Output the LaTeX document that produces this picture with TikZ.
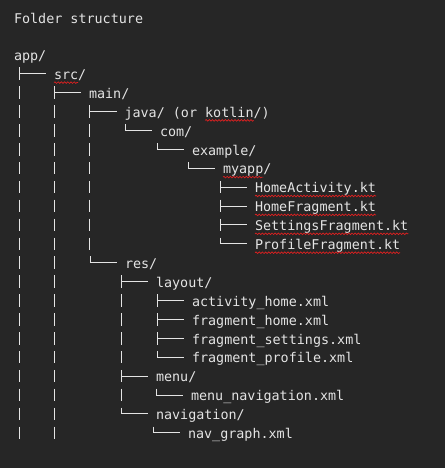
\documentclass[tikz,border=0pt]{standalone}
\usepackage{fontspec}
\setmonofont{DejaVu Sans Mono}
\usetikzlibrary{decorations.pathmorphing}
\definecolor{bgc}{HTML}{262626}
\definecolor{fgc}{HTML}{E4E4E4}
\definecolor{sqc}{HTML}{E02020}
\tikzset{
  nametext/.style={anchor=base west, inner sep=0pt, outer sep=0pt, text=fgc,
    font=\ttfamily\fontsize{13.4}{16}\selectfont},
  treeline/.style={draw=fgc, line width=0.9pt},
  squigline/.style={draw=sqc, line width=0.7pt, decorate,
    decoration={snake, amplitude=0.8pt, segment length=3.2pt}}
}
\newcommand\teeto[1]{\draw[treeline] ([shift={(-35,-12)}]#1.base west) -- ([shift={(-35,0.5)}]#1.base west)
  ([shift={(-35,-5.7)}]#1.base west) -- ([shift={(-8,-5.7)}]#1.base west);}
\newcommand\cornerto[1]{\draw[treeline] ([shift={(-35,-12)}]#1.base west) -- ([shift={(-35,-5.7)}]#1.base west)
  -- ([shift={(-8,-5.7)}]#1.base west);}
\newcommand\vbars[2]{\foreach \xx in {#2}{\draw[treeline] (\xx,{by(#1)-12}) -- (\xx,{by(#1)+0.5});}}
\newcommand\squig[3]{\draw[squigline] ([shift={(#2*8.067,3.2)}]#1.base west) -- ([shift={(#3*8.067,3.2)}]#1.base west);}
\begin{document}
\begin{tikzpicture}[x=1pt,y=-1pt, declare function={by(\i)=60.5+18.9*\i;}]
\fill[bgc] (0,0) rectangle (445,468);
\useasboundingbox (0,0) rectangle (445,468);

\node[nametext] (title) at (14,24) {Folder structure};
\node[nametext] (n0) at (14,{by(0)}) {app/};
\node[nametext] (n1) at (54,{by(1)}) {src/};
\node[nametext] (n2) at (89,{by(2)}) {main/};
\node[nametext] (n3) at (124.5,{by(3)}) {java/ (or kotlin/)};
\node[nametext] (n4) at (160,{by(4)}) {com/};
\node[nametext] (n5) at (192,{by(5)}) {example/};
\node[nametext] (n6) at (223,{by(6)}) {myapp/};
\node[nametext] (n7) at (255,{by(7)}) {HomeActivity.kt};
\node[nametext] (n8) at (255,{by(8)}) {HomeFragment.kt};
\node[nametext] (n9) at (255,{by(9)}) {SettingsFragment.kt};
\node[nametext] (n10) at (255,{by(10)}) {ProfileFragment.kt};
\node[nametext] (n11) at (125,{by(11)}) {res/};
\node[nametext] (n12) at (156,{by(12)}) {layout/};
\node[nametext] (n13) at (192,{by(13)}) {activity\_home.xml};
\node[nametext] (n14) at (192,{by(14)}) {fragment\_home.xml};
\node[nametext] (n15) at (192,{by(15)}) {fragment\_settings.xml};
\node[nametext] (n16) at (192,{by(16)}) {fragment\_profile.xml};
\node[nametext] (n17) at (156,{by(17)}) {menu/};
\node[nametext] (n18) at (191,{by(18)}) {menu\_navigation.xml};
\node[nametext] (n19) at (156,{by(19)}) {navigation/};
\node[nametext] (n20) at (188,{by(20)}) {nav\_graph.xml};

\teeto{n1}
\teeto{n2}\vbars{2}{19}
\teeto{n3}\vbars{3}{19,54}
\cornerto{n4}\vbars{4}{19,54,89}
\cornerto{n5}\vbars{5}{19,54,89}
\cornerto{n6}\vbars{6}{19,54,89}
\teeto{n7}\vbars{7}{19,54,89}
\teeto{n8}\vbars{8}{19,54,89}
\teeto{n9}\vbars{9}{19,54,89}
\cornerto{n10}\vbars{10}{19,54,89}
\cornerto{n11}\vbars{11}{19,54}
\teeto{n12}\vbars{12}{19,54}
\teeto{n13}\vbars{13}{19,54,121}
\teeto{n14}\vbars{14}{19,54,121}
\teeto{n15}\vbars{15}{19,54,121}
\cornerto{n16}\vbars{16}{19,54,121}
\teeto{n17}\vbars{17}{19,54}
\cornerto{n18}\vbars{18}{19,54,121}
\cornerto{n19}\vbars{19}{19,54}
\cornerto{n20}\vbars{20}{19,54}

\squig{n1}{0}{3}
\squig{n3}{10}{16}
\squig{n6}{0}{5}
\squig{n7}{0}{15}
\squig{n8}{0}{15}
\squig{n9}{0}{19}
\squig{n10}{0}{18}
\end{tikzpicture}
\end{document}
